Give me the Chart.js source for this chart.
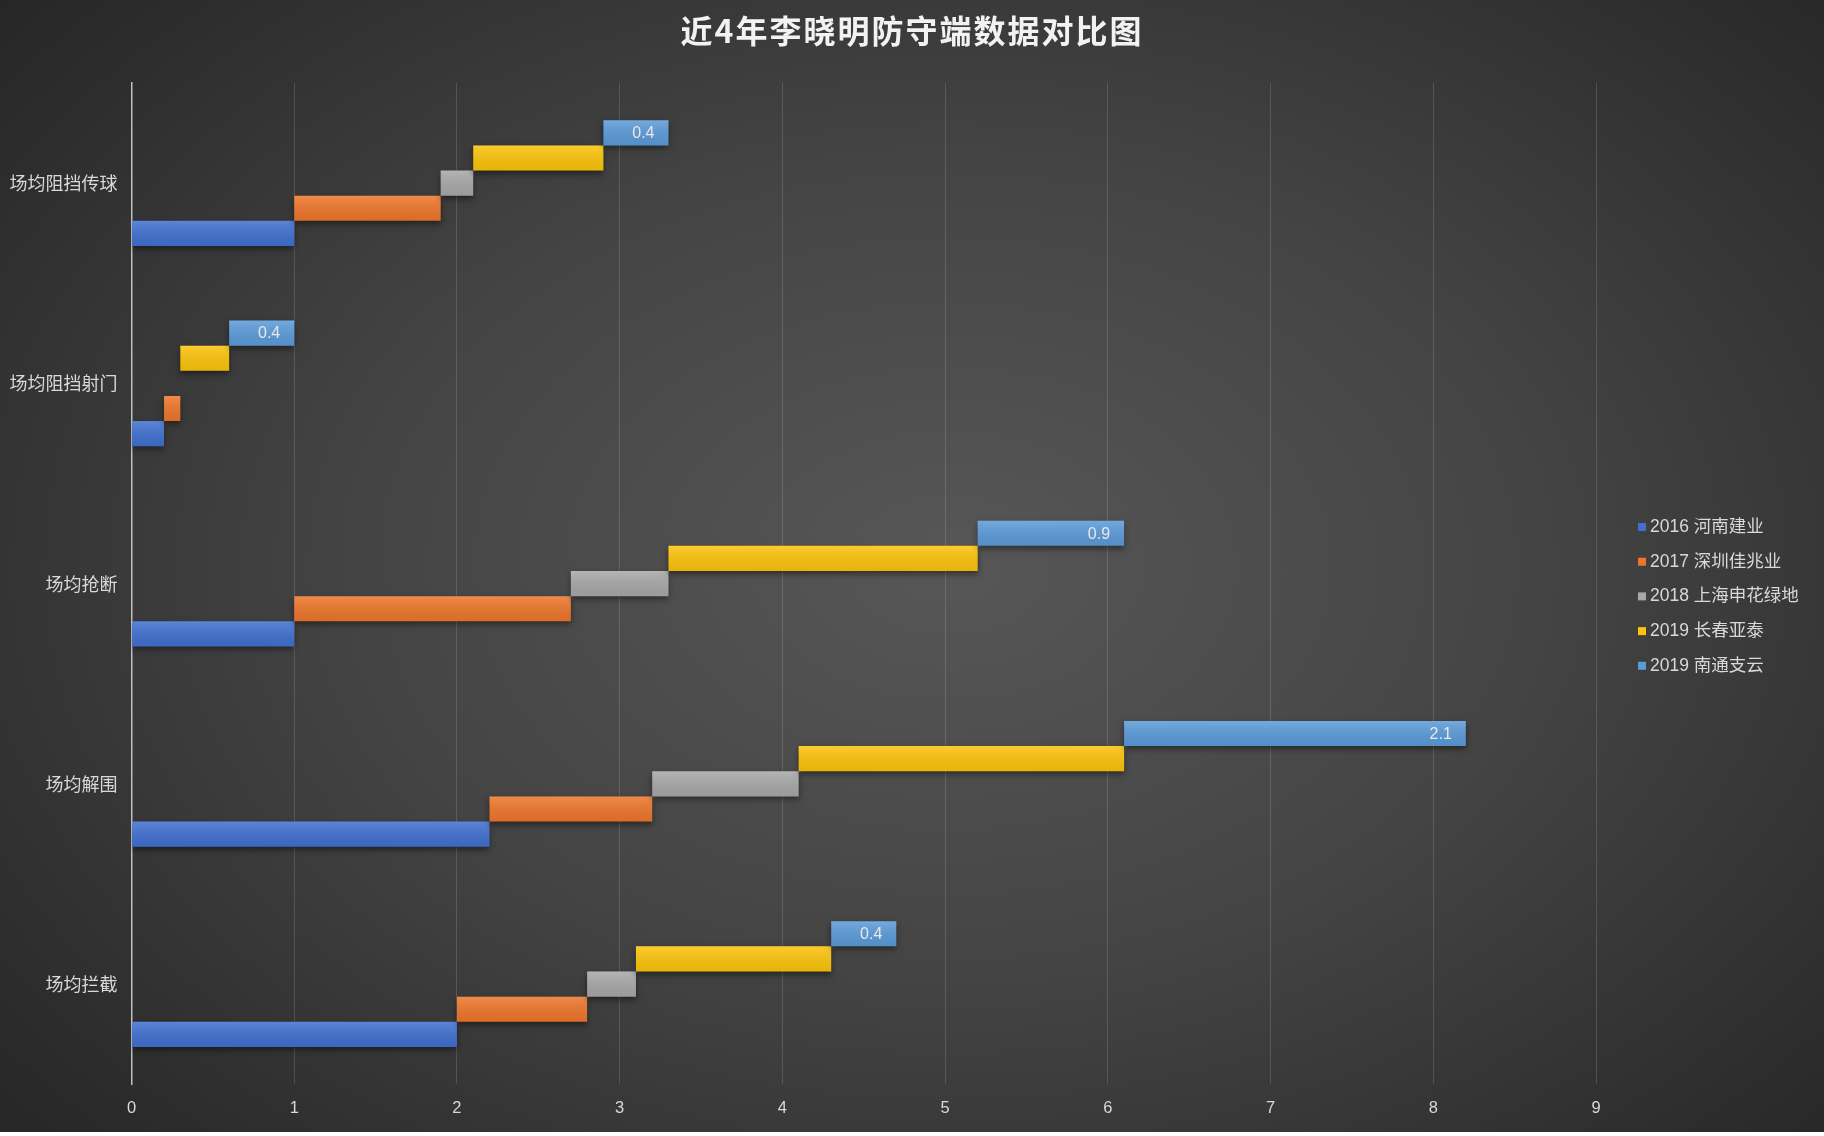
<!DOCTYPE html>
<html>
<head>
<meta charset="utf-8">
<script src="https://cdn.jsdelivr.net/npm/chart.js@4.4.1/dist/chart.umd.min.js"></script>
<style>
  html, body { margin: 0; padding: 0; background: #ffffff; }
  #wrap {
    width: 1824px; height: 1132px; position: relative;
    background: radial-gradient(ellipse 72% 80% at 52% 50%, #575757 0%, #444444 45%, #2c2c2c 85%, #242424 100%);
  }
</style>
</head>
<body>
<div id="wrap"><canvas id="chart"></canvas></div>
<script>
// categories top to bottom
const categories = ['场均阻挡传球', '场均阻挡射门', '场均抢断', '场均解围', '场均拦截'];
const seriesNames = ['2016 河南建业', '2017 深圳佳兆业', '2018 上海申花绿地', '2019 长春亚泰', '2019 南通支云'];

// per-season values
const henan2016     = [1.0, 0.2, 1.0, 2.2, 2.0];
const shenzhen2017  = [0.9, 0.1, 1.7, 1.0, 0.8];
const shenhua2018   = [0.2, 0.0, 0.6, 0.9, 0.3];
const changchun2019 = [0.8, 0.3, 1.9, 2.0, 1.2];
const nantong2019   = [0.4, 0.4, 0.9, 2.1, 0.4];

const xTicks = [0, 1, 2, 3, 4, 5, 6, 7, 8, 9];
const seriesColors = ['#4070D0', '#EE762B', '#A8A8A8', '#FCC40A', '#5B9BD9'];
const chartTitle = '近4年李晓明防守端数据对比图';

const FONT = "'Liberation Sans', 'Noto Sans CJK SC', sans-serif";
const seriesValues = [henan2016, shenzhen2017, shenhua2018, changchun2019, nantong2019];

// each season starts where the previous one ended (waterfall)
let running = categories.map(() => 0);
const floating = seriesValues.map(vals => {
  const out = vals.map((v, i) => [running[i], +(running[i] + v).toFixed(2)]);
  running = out.map(p => p[1]);
  return out;
});

// dataset 0 is drawn at the top of a group, so add the seasons last-first
const datasets = seriesNames.map((name, s) => ({
  label: name,
  data: floating[s],
  backgroundColor: seriesColors[s],
  borderWidth: 0,
  barPercentage: 1.0,
  categoryPercentage: 0.628
})).reverse();

const barStyle = {
  id: 'barStyle',
  beforeDatasetDraw(chart) {
    const ctx = chart.ctx;
    ctx.save();
    ctx.shadowColor = 'rgba(0,0,0,0.45)';
    ctx.shadowBlur = 6;
    ctx.shadowOffsetY = 3;
  },
  afterDatasetDraw(chart, args) {
    const ctx = chart.ctx;
    ctx.restore();
    // light sheen on top of each bar
    args.meta.data.forEach(el => {
      const left = Math.min(el.x, el.base), w = Math.abs(el.x - el.base);
      if (w < 0.5) return;
      const top = el.y - el.height / 2;
      const g = ctx.createLinearGradient(0, top, 0, top + el.height);
      g.addColorStop(0, 'rgba(255,255,255,0.15)');
      g.addColorStop(1, 'rgba(0,0,0,0.08)');
      ctx.fillStyle = g;
      ctx.fillRect(left, top, w, el.height);
    });
  },
  afterDatasetsDraw(chart) {
    const ctx = chart.ctx;
    const idx = chart.data.datasets.findIndex(d => d.label === seriesNames[4]);
    const meta = chart.getDatasetMeta(idx);
    ctx.save();
    ctx.font = '16px ' + FONT;
    ctx.fillStyle = '#e8e8e8';
    ctx.textAlign = 'right';
    ctx.textBaseline = 'middle';
    meta.data.forEach((el, i) => {
      ctx.fillText(nantong2019[i].toFixed(1), el.x - 14, el.y + 1);
    });
    ctx.restore();
  },
  afterDraw(chart) {
    const ctx = chart.ctx;
    ctx.save();
    // title, centred on the whole canvas
    ctx.font = "bold 32px 'Noto Sans CJK SC', sans-serif";
    ctx.letterSpacing = '2px';
    ctx.fillStyle = '#f2f2f2';
    ctx.textAlign = 'center';
    ctx.textBaseline = 'middle';
    ctx.fillText(chartTitle, chart.width / 2, 31);
    ctx.letterSpacing = '0px';
    // legend, in season order
    ctx.font = '17.5px ' + FONT;
    ctx.textAlign = 'left';
    const x0 = chart.chartArea.right + 42;
    const y0 = 527;
    seriesNames.forEach((name, i) => {
      const y = y0 + i * 34.7;
      ctx.fillStyle = seriesColors[i];
      ctx.fillRect(x0, y - 4, 8, 8);
      ctx.fillStyle = '#d9d9d9';
      ctx.fillText(name, x0 + 12, y);
    });
    ctx.restore();
  }
};

new Chart(document.getElementById('chart'), {
  type: 'bar',
  data: { labels: categories, datasets: datasets },
  options: {
    indexAxis: 'y',
    responsive: true,
    maintainAspectRatio: false,
    animation: false,
    layout: { padding: { left: 0, right: 228, top: 83, bottom: 0 } },
    plugins: {
      legend: { display: false },
      tooltip: { enabled: false },
      title: { display: false }
    },
    scales: {
      x: {
        min: 0,
        max: xTicks[xTicks.length - 1],
        afterBuildTicks: scale => { scale.ticks = xTicks.map(v => ({ value: v })); },
        ticks: { color: '#d9d9d9', font: { family: FONT, size: 16.5 }, padding: 14 },
        grid: {
          drawTicks: false,
          color: c => c.tick && c.tick.value === 0 ? 'rgba(0,0,0,0)' : 'rgba(255,255,255,0.14)',
          lineWidth: 1
        },
        border: { display: false }
      },
      y: {
        grid: { display: false, drawTicks: false },
        border: { display: true, color: '#c0c0c0', width: 1.5 },
        ticks: { color: '#d9d9d9', font: { family: FONT, size: 18 }, padding: 14, labelOffset: 2 },
        afterFit: scale => { scale.width = 131.5; }
      }
    }
  },
  plugins: [barStyle]
});
</script>
</body>
</html>
